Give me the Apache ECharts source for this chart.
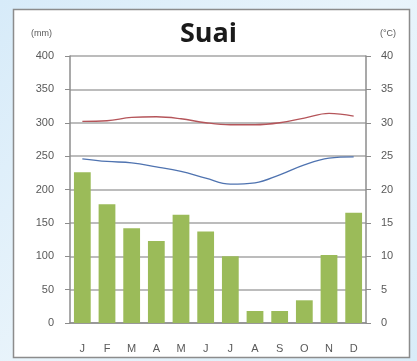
<!DOCTYPE html>
<html>
<head>
<meta charset="utf-8">
<script src="https://cdn.jsdelivr.net/npm/echarts@6/dist/echarts.min.js"></script>
<style>
  html, body { margin: 0; padding: 0; }
  body { width: 417px; height: 361px; background: linear-gradient(135deg, #d7ebf9 0%, #e9f4fb 50%, #d9ecf8 100%); }
  #chart { width: 417px; height: 361px; }
</style>
</head>
<body>
<div id="chart"></div>
<script>
// month labels
var months = ["J", "F", "M", "A", "M", "J", "J", "A", "S", "O", "N", "D"];
// precipitation (mm)
var rain = [226, 178, 142, 123, 162, 137, 100, 18, 18, 34, 102, 165];
// max temp (°C)
var tempMax = [30.2, 30.3, 30.8, 30.9, 30.6, 30.0, 29.7, 29.7, 30.0, 30.7, 31.4, 31.0];
// min temp (°C)
var tempMin = [24.6, 24.2, 24.0, 23.4, 22.7, 21.7, 20.8, 21.0, 22.2, 23.7, 24.7, 24.9];

var chart = echarts.init(document.getElementById("chart"));

var labelStyle = { color: "#595959", fontSize: 11, fontFamily: "Liberation Sans" };

chart.setOption({
  backgroundColor: "transparent",
  animation: false,
  graphic: [
    {
      type: "rect",
      z: -10,
      shape: { x: 13.5, y: 9.5, width: 396, height: 348 },
      style: { fill: "#ffffff", stroke: "#8c8c8c", lineWidth: 1.5 }
    }
  ],
  title: {
    text: "Suai",
    left: "center",
    top: 16,
    textStyle: { fontSize: 27, fontWeight: "bold", color: "#1a1a1a", fontFamily: "Open Sans" }
  },
  grid: { left: 70, right: 51, top: 56, bottom: 38 },
  xAxis: {
    type: "category",
    data: months,
    axisLine: { show: true, lineStyle: { color: "#8c8c8c", width: 1.5 } },
    axisTick: { show: false },
    axisLabel: Object.assign({ margin: 20 }, labelStyle)
  },
  yAxis: [
    {
      type: "value",
      name: "(mm)",
      nameLocation: "end",
      nameGap: 18,
      nameTextStyle: { color: "#595959", fontSize: 9, align: "right", padding: [0, 18, 0, 0], fontFamily: "Liberation Sans" },
      min: 0,
      max: 400,
      interval: 50,
      axisLine: { show: true, lineStyle: { color: "#8c8c8c", width: 1.5 } },
      axisTick: { show: true, length: 5, lineStyle: { color: "#8c8c8c" } },
      axisLabel: Object.assign({ margin: 16 }, labelStyle),
      splitLine: { lineStyle: { color: "#a6a6a6", width: 1.5 } }
    },
    {
      type: "value",
      name: "(°C)",
      nameLocation: "end",
      nameGap: 18,
      nameTextStyle: { color: "#595959", fontSize: 9, align: "left", padding: [0, 0, 0, 14], fontFamily: "Liberation Sans" },
      min: 0,
      max: 40,
      interval: 5,
      position: "right",
      axisLine: { show: true, lineStyle: { color: "#8c8c8c", width: 1.5 } },
      axisTick: { show: true, length: 5, lineStyle: { color: "#8c8c8c" } },
      axisLabel: Object.assign({ margin: 15 }, labelStyle),
      splitLine: { show: false }
    }
  ],
  series: [
    {
      type: "bar",
      data: rain,
      yAxisIndex: 0,
      barCategoryGap: "32%",
      itemStyle: { color: "#9bbb59" }
    },
    {
      type: "line",
      data: tempMax,
      yAxisIndex: 1,
      smooth: 0.4,
      symbol: "none",
      lineStyle: { color: "#b5555a", width: 1.3 }
    },
    {
      type: "line",
      data: tempMin,
      yAxisIndex: 1,
      smooth: 0.4,
      symbol: "none",
      lineStyle: { color: "#4f73b0", width: 1.3 }
    }
  ]
});
</script>
</body>
</html>
